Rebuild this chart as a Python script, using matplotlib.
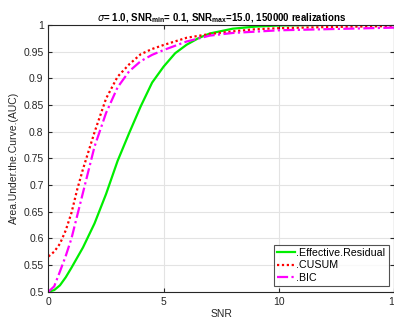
import matplotlib
matplotlib.use("Agg")
import matplotlib.pyplot as plt

snr_er = [0, 0.25, 0.5, 0.75, 1.0, 1.5, 2.0, 2.5, 3.0, 3.5, 4.0, 4.5, 5.0, 5.5, 6.0, 6.5, 7.0, 8.0, 9.0, 10, 12, 15]
auc_er = [0.5, 0.503, 0.512, 0.527, 0.545, 0.583, 0.628, 0.683, 0.745, 0.797, 0.847, 0.892, 0.922, 0.947, 0.963, 0.975, 0.984, 0.993, 0.997, 0.999, 1.0, 1.0]

snr_cu = [0, 0.25, 0.5, 0.75, 1.0, 1.25, 1.5, 2.0, 2.5, 3.0, 3.5, 4.0, 4.5, 5.0, 6.0, 7.0, 8.0, 9.0, 10, 12, 15]
auc_cu = [0.566, 0.575, 0.59, 0.615, 0.648, 0.692, 0.73, 0.799, 0.862, 0.903, 0.926, 0.945, 0.955, 0.9625, 0.976, 0.983, 0.988, 0.992, 0.994, 0.996, 0.998]

snr_bic = [0, 0.25, 0.5, 0.75, 1.0, 1.25, 1.5, 2.0, 2.5, 3.0, 3.5, 4.0, 4.5, 5.0, 6.0, 7.0, 8.0, 10, 12, 15]
auc_bic = [0.5, 0.51, 0.538, 0.567, 0.6, 0.643, 0.686, 0.772, 0.835, 0.883, 0.913, 0.932, 0.944, 0.953, 0.969, 0.98, 0.985, 0.99, 0.992, 0.995]

labels = [".Effective.Residual", ".CUSUM", ".BIC"]
xticks = [0, 5, 10, 15]
yticks = [0.5, 0.55, 0.6, 0.65, 0.7, 0.75, 0.8, 0.85, 0.9, 0.95, 1.0]
ytick_labels = ["0.5", "0.55", "0.6", "0.65", "0.7", "0.75", "0.8", "0.85", "0.9", "0.95", "1"]

plt.rcParams['font.family'] = ['Liberation Sans', 'DejaVu Sans']
fig = plt.figure(figsize=(3.94, 3.2), dpi=100)
ax = fig.add_axes([0.123, 0.0885, 0.877, 0.8335])

ax.plot(snr_er, auc_er, color='#00ee00', lw=1.6, label=labels[0])
ax.plot(snr_cu, auc_cu, color='#ff0000', lw=1.6, ls=(0, (1, 1.2)), label=labels[1])
ax.plot(snr_bic, auc_bic, color='#ff00ff', lw=1.6, ls=(0, (5, 1.5, 1, 1.5)), label=labels[2])

ax.set_xlim(0, 15)
ax.set_ylim(0.5, 1.0)
ax.set_xticks(xticks)
ax.set_xticklabels([str(t) for t in xticks])
ax.set_yticks(yticks)
ax.set_yticklabels(ytick_labels)
ax.grid(True, color='#e3e3e3', lw=0.8)
ax.set_axisbelow(True)
ax.tick_params(direction='in', length=3, labelsize=7.5, colors='#262626', top=True, right=True)
for s in ax.spines.values():
    s.set_color('#262626')
    s.set_linewidth(0.8)

ax.set_xlabel("SNR", fontsize=7.5, color='#262626', labelpad=2)
ax.set_ylabel("Area.Under.the.Curve.(AUC)", fontsize=7.5, color='#262626', labelpad=3)
ax.set_title(r"$\sigma$= 1.0, SNR$_{\mathregular{min}}$= 0.1, SNR$_{\mathregular{max}}$=15.0, 150000 realizations",
             fontsize=7, fontweight='bold', pad=3)

leg = ax.legend(loc='lower right', fontsize=7.7, frameon=True, fancybox=False, handlelength=1.7,
                handletextpad=0.1, borderpad=0.3, labelspacing=0.25, borderaxespad=0.5)
leg.get_frame().set_edgecolor('#262626')
leg.get_frame().set_linewidth(0.8)

fig.savefig("out.png", dpi=100)
